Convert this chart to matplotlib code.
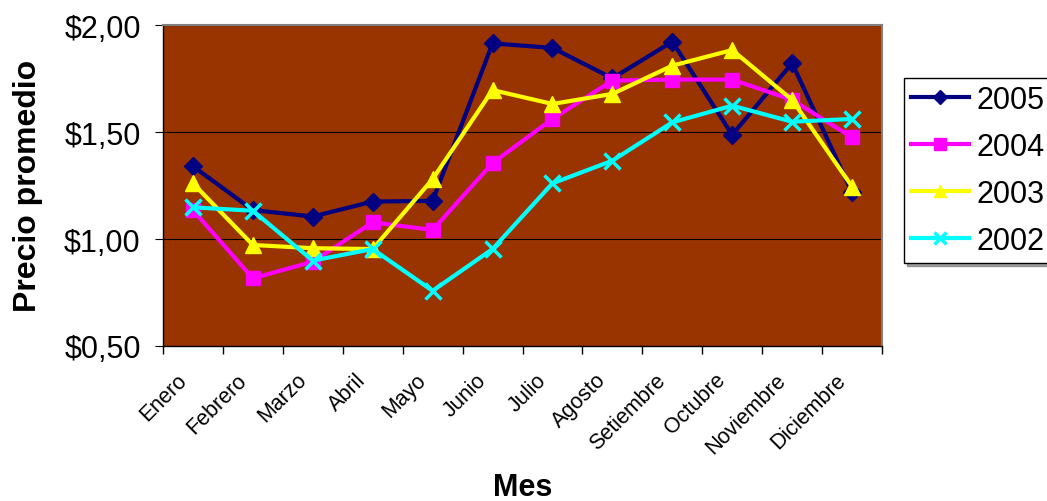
import matplotlib
matplotlib.use("Agg")
import matplotlib.pyplot as plt
from matplotlib.ticker import FuncFormatter
from matplotlib.transforms import ScaledTranslation

plt.rcParams['font.family'] = ['Liberation Sans', 'DejaVu Sans']

meses = ["Enero", "Febrero", "Marzo", "Abril", "Mayo", "Junio", "Julio",
         "Agosto", "Setiembre", "Octubre", "Noviembre", "Diciembre"]
y2005 = [1.34, 1.135, 1.105, 1.175, 1.178, 1.914, 1.893, 1.751, 1.922, 1.487, 1.822, 1.218]
y2004 = [1.135, 0.816, 0.894, 1.078, 1.042, 1.355, 1.561, 1.740, 1.745, 1.745, 1.650, 1.475]
y2003 = [1.26, 0.972, 0.957, 0.953, 1.28, 1.696, 1.631, 1.678, 1.810, 1.883, 1.650, 1.245]
y2002 = [1.148, 1.132, 0.899, 0.953, 0.758, 0.953, 1.260, 1.366, 1.545, 1.623, 1.548, 1.561]

series = [("2005", y2005, "#000080", "D", 9),
          ("2004", y2004, "#FF00FF", "s", 10),
          ("2003", y2003, "#FFFF00", "^", 11),
          ("2002", y2002, "#00FFFF", "x", 11)]

fig = plt.figure(figsize=(10.47, 5.02), dpi=100)
ax = fig.add_axes([163/1047, 1-347/502, (882-163)/1047, (347-26)/502])
ax.set_facecolor("#993300")

x = list(range(len(meses)))
for name, vals, col, mk, ms in series:
    ax.plot(x, vals, color=col, lw=3, marker=mk, ms=ms, mew=2.5 if mk == "x" else 1,
            mec=col, mfc=col, label=name, solid_joinstyle='miter', zorder=3)

ax.set_xlim(-0.5, 11.5)
ax.set_ylim(0.5, 2.0)
ax.set_yticks([0.5, 1.0, 1.5, 2.0])
ax.yaxis.set_major_formatter(FuncFormatter(lambda v, p: "$" + f"{v:.2f}".replace(".", ",")))
ax.grid(axis='y', color='black', lw=0.8)
ax.set_axisbelow(True)

ax.set_xticks([i - 0.5 for i in range(13)])
ax.set_xticklabels([])
ax.tick_params(axis='x', length=6, direction='out', width=1)
ax.tick_params(axis='y', length=6, direction='out', labelsize=22, pad=10)

lab_tr = ax.get_xaxis_transform() + ScaledTranslation(-0.17, -0.23, fig.dpi_scale_trans)
for i, m in enumerate(meses):
    ax.text(i, 0, m, transform=lab_tr, rotation=45, ha='right', va='top',
            rotation_mode='anchor', fontsize=15.5, clip_on=False)

for s in ['top', 'right']:
    ax.spines[s].set_color('#808080')
    ax.spines[s].set_linewidth(1.5)
for s in ['left', 'bottom']:
    ax.spines[s].set_color('black')
    ax.spines[s].set_linewidth(1)

fig.text(0.027, 1-186/502, "Precio promedio", rotation=90, fontsize=23, fontweight='bold',
         ha='center', va='center')
fig.text(523/1047, 1-488/502, "Mes", fontsize=22, fontweight='bold', ha='center', va='center')

leg = fig.legend(loc='upper left', bbox_to_anchor=(904/1047, 1-79/502), fontsize=22,
                 frameon=True, fancybox=False, shadow=True, edgecolor='black',
                 borderaxespad=0, handlelength=1.9, labelspacing=0.56, borderpad=0.22,
                 handletextpad=0.25, markerscale=0.8)
leg.get_frame().set_linewidth(1)

fig.savefig("out.png", dpi=100)
